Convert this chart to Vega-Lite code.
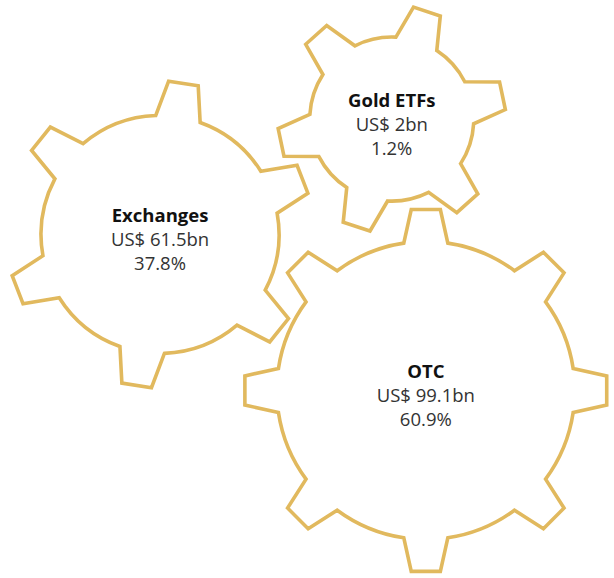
{
  "$schema": "https://vega.github.io/schema/vega-lite/v6.json",
  "width": 614,
  "height": 578,
  "autosize": {"type": "fit", "contains": "padding"},
  "padding": 0,
  "background": "white",
  "config": {"view": {"stroke": null}},
  "data": {
    "values": [
      {"name": "Exchanges", "amount": "US$ 61.5bn", "share": "37.8%", "cx": 160.3, "cy": 236.1},
      {"name": "Gold ETFs", "amount": "US$ 2bn", "share": "1.2%", "cx": 392.4, "cy": 119.9},
      {"name": "OTC", "amount": "US$ 99.1bn", "share": "60.9%", "cx": 426.5, "cy": 393.2}
    ]
  },
  "encoding": {
    "x": {"field": "cx", "type": "quantitative", "scale": {"domain": [0, 614], "nice": false, "zero": false}, "axis": null},
    "y": {"field": "cy", "type": "quantitative", "scale": {"domain": [0, 578], "nice": false, "zero": false, "reverse": true}, "axis": null}
  },
  "layer": [
    {
      "mark": {"type": "point", "filled": false, "fill": null, "stroke": "#e1b95e", "strokeWidth": 3.6, "opacity": 1, "size": 40000, "strokeJoin": "miter"},
      "encoding": {
        "shape": {
          "field": "name",
          "type": "nominal",
          "legend": null,
          "scale": {
            "domain": ["Exchanges", "Gold ETFs", "OTC"],
            "range": [
              "M -0.0436 -1.1892 L 0.0857 -1.5326 L 0.3817 -1.4868 L 0.4011 -1.1203 C 0.6524 -1.0303 0.8663 -0.8585 1.0081 -0.6324 L 1.3701 -0.6921 L 1.4785 -0.4128 L 1.1708 -0.2128 C 1.2185 0.0498 1.1766 0.3209 1.0517 0.5568 L 1.2844 0.8405 L 1.0967 1.0740 L 0.7697 0.9076 C 0.5661 1.0802 0.3103 1.1794 0.0436 1.1892 L -0.0857 1.5326 L -0.3817 1.4868 L -0.4011 1.1203 C -0.6524 1.0303 -0.8663 0.8585 -1.0081 0.6324 L -1.3701 0.6921 L -1.4785 0.4128 L -1.1708 0.2128 C -1.2185 -0.0498 -1.1766 -0.3209 -1.0517 -0.5568 L -1.2844 -0.8405 L -1.0967 -1.0740 L -0.7697 -0.9076 C -0.5661 -1.0802 -0.3103 -1.1794 -0.0436 -1.1892 Z",
              "M 0.0415 -0.8190 L 0.2175 -1.1191 L 0.4854 -1.0315 L 0.4502 -0.6854 C 0.5689 -0.6074 0.6653 -0.5000 0.7300 -0.3736 L 1.0779 -0.3711 L 1.1360 -0.0954 L 0.8186 0.0472 C 0.8104 0.1890 0.7656 0.3262 0.6885 0.4454 L 0.8604 0.7479 L 0.6506 0.9361 L 0.3685 0.7326 C 0.2416 0.7964 0.1003 0.8262 -0.0415 0.8190 L -0.2175 1.1191 L -0.4854 1.0315 L -0.4502 0.6854 C -0.5689 0.6074 -0.6653 0.5000 -0.7300 0.3736 L -1.0779 0.3711 L -1.1360 0.0954 L -0.8186 -0.0472 C -0.8104 -0.1890 -0.7656 -0.3262 -0.6885 -0.4454 L -0.8604 -0.7479 L -0.6506 -0.9361 L -0.3685 -0.7326 C -0.2416 -0.7964 -0.1003 -0.8262 0.0415 -0.8190 Z",
              "M -0.2202 -1.4736 L -0.1456 -1.8092 L 0.1456 -1.8092 L 0.2202 -1.4736 C 0.4614 -1.4376 0.6902 -1.3428 0.8863 -1.1977 L 1.1763 -1.3822 L 1.3822 -1.1763 L 1.1977 -0.8863 C 1.3428 -0.6903 1.4375 -0.4615 1.4736 -0.2202 L 1.8092 -0.1456 L 1.8092 0.1456 L 1.4736 0.2202 C 1.4376 0.4614 1.3428 0.6902 1.1977 0.8863 L 1.3822 1.1763 L 1.1763 1.3822 L 0.8863 1.1977 C 0.6903 1.3428 0.4615 1.4375 0.2202 1.4736 L 0.1456 1.8092 L -0.1456 1.8092 L -0.2202 1.4736 C -0.4614 1.4376 -0.6902 1.3428 -0.8863 1.1977 L -1.1763 1.3822 L -1.3822 1.1763 L -1.1977 0.8863 C -1.3428 0.6903 -1.4375 0.4615 -1.4736 0.2202 L -1.8092 0.1456 L -1.8092 -0.1456 L -1.4736 -0.2202 C -1.4376 -0.4614 -1.3428 -0.6902 -1.1977 -0.8863 L -1.3822 -1.1763 L -1.1763 -1.3822 L -0.8863 -1.1977 C -0.6903 -1.3428 -0.4615 -1.4375 -0.2202 -1.4736 Z"
            ]
          }
        }
      }
    },
    {
      "mark": {"type": "text", "font": "Open Sans", "fontSize": 18.5, "fontWeight": "bold", "color": "#111111", "align": "center", "baseline": "alphabetic", "dy": -12.5},
      "encoding": {"text": {"field": "name"}}
    },
    {
      "mark": {"type": "text", "font": "Open Sans", "fontSize": 18.5, "fontWeight": "normal", "color": "#333333", "align": "center", "baseline": "alphabetic", "dy": 11.5},
      "encoding": {"text": {"field": "amount"}}
    },
    {
      "mark": {"type": "text", "font": "Open Sans", "fontSize": 18.5, "fontWeight": "normal", "color": "#333333", "align": "center", "baseline": "alphabetic", "dy": 35.5},
      "encoding": {"text": {"field": "share"}}
    }
  ]
}
